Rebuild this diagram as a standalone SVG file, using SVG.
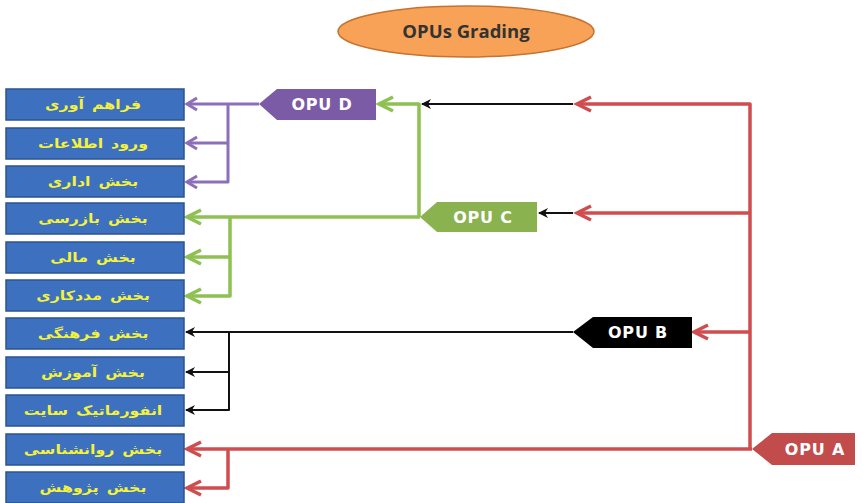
<svg xmlns="http://www.w3.org/2000/svg" width="863" height="503" viewBox="0 0 863 503">
<style>
.box{fill:#3D70BE;stroke:#2B5491;stroke-width:1.5}
.bt{font-family:"DejaVu Sans",sans-serif;font-weight:bold;font-size:13px;fill:#F4F23C;text-anchor:middle;word-spacing:2px}
.nt{font-family:"DejaVu Sans",sans-serif;font-weight:bold;font-size:16px;fill:#FFFFFF;text-anchor:middle;letter-spacing:0.8px}
.c{fill:none;stroke-linejoin:round}
.pu{stroke:#8C6FB8;stroke-width:3}
.gr{stroke:#8FC052;stroke-width:3.5}
.bk{stroke:#111111;stroke-width:2}
.rd{stroke:#CF4D4F;stroke-width:3.5}
</style>
<defs>
<marker id="ap" markerUnits="userSpaceOnUse" viewBox="-14 -9 16 18" refX="0" refY="0" markerWidth="16" markerHeight="18" orient="auto" overflow="visible">
<path d="M-10,-6 L0,0 L-10,6" fill="none" stroke="#8C6FB8" stroke-width="3" stroke-linejoin="miter"/>
</marker>
<marker id="ag" markerUnits="userSpaceOnUse" viewBox="-16 -9 18 18" refX="0" refY="0" markerWidth="18" markerHeight="18" orient="auto" overflow="visible">
<path d="M-14,-7 L0,0 L-14,7" fill="none" stroke="#8FC052" stroke-width="3.5"/>
</marker>
<marker id="ar" markerUnits="userSpaceOnUse" viewBox="-16 -9 18 18" refX="0" refY="0" markerWidth="18" markerHeight="18" orient="auto" overflow="visible">
<path d="M-14,-7 L0,0 L-14,7" fill="none" stroke="#CF4D4F" stroke-width="3.5"/>
</marker>
<marker id="ab" markerUnits="userSpaceOnUse" viewBox="-12 -6 14 12" refX="0" refY="0" markerWidth="14" markerHeight="12" orient="auto" overflow="visible">
<path d="M1,0 L-9,-5 L-6,0 L-9,5 Z" fill="#111111"/>
</marker>
</defs>
<rect width="863" height="503" fill="#FFFFFF"/>

<g id="title">
<ellipse cx="466" cy="31.5" rx="128" ry="25.5" fill="#F7A257" stroke="#C7732F" stroke-width="1.5"/>
<text x="466" y="37.5" font-family="Open Sans, DejaVu Sans, sans-serif" font-weight="bold" font-size="18.5" fill="#333333" text-anchor="middle">OPUs Grading</text>
</g>

<g id="connectors">
<path class="c rd" d="M750,449 V104 H577" marker-end="url(#ar)"/>
<path class="c rd" d="M750,213 H577" marker-end="url(#ar)"/>
<path class="c rd" d="M750,332 H694" marker-end="url(#ar)"/>
<path class="c rd" d="M752,449 H187" marker-end="url(#ar)"/>
<path class="c rd" d="M228,449 V488 H187" marker-end="url(#ar)"/>
<path class="c bk" d="M573,104 H422" marker-end="url(#ab)"/>
<path class="c bk" d="M573,213 H539" marker-end="url(#ab)"/>
<path class="c bk" d="M573,332 H186" marker-end="url(#ab)"/>
<path class="c bk" d="M229,332 V410 H186" marker-end="url(#ab)"/>
<path class="c bk" d="M229,372 H186" marker-end="url(#ab)"/>
<path class="c gr" d="M419,217 V104 H379" marker-end="url(#ag)"/>
<path class="c gr" d="M420,217 H187" marker-end="url(#ag)"/>
<path class="c gr" d="M230,217 V296 H187" marker-end="url(#ag)"/>
<path class="c gr" d="M230,257 H187" marker-end="url(#ag)"/>
<path class="c pu" d="M259,104 H187" marker-end="url(#ap)"/>
<path class="c pu" d="M228,104 V182 H187" marker-end="url(#ap)"/>
<path class="c pu" d="M228,143 H187" marker-end="url(#ap)"/>
</g>

<g id="opu-d"><polygon points="259,104 277,89 376,89 376,120 277,120" fill="#7B5BA6"/><text class="nt" x="322" y="110">OPU D</text></g>
<g id="opu-c"><polygon points="420,217 437,202 537,202 537,232 437,232" fill="#8AB24F"/><text class="nt" x="483" y="223">OPU C</text></g>
<g id="opu-b"><polygon points="573,332 593,317 692,317 692,348 593,348" fill="#000000"/><text class="nt" x="638" y="338">OPU B</text></g>
<g id="opu-a"><polygon points="752,449 772,433 855,433 855,465 772,465" fill="#C24B4C"/><text class="nt" x="815" y="455">OPU A</text></g>

<g id="box1"><rect class="box" x="6" y="89" width="178" height="31"/><text class="bt" transform="translate(93,109) scale(1.22,1)">فراهم آوری</text></g>
<g id="box2"><rect class="box" x="6" y="128" width="178" height="31"/><text class="bt" transform="translate(93,148) scale(1.22,1)">ورود اطلاعات</text></g>
<g id="box3"><rect class="box" x="6" y="166" width="178" height="31"/><text class="bt" transform="translate(93,186) scale(1.22,1)">بخش اداری</text></g>
<g id="box4"><rect class="box" x="6" y="203" width="178" height="31"/><text class="bt" transform="translate(93,223) scale(1.22,1)">بخش بازرسی</text></g>
<g id="box5"><rect class="box" x="6" y="242" width="178" height="31"/><text class="bt" transform="translate(93,262) scale(1.22,1)">بخش مالی</text></g>
<g id="box6"><rect class="box" x="6" y="280" width="178" height="31"/><text class="bt" transform="translate(93,300) scale(1.22,1)">بخش مددکاری</text></g>
<g id="box7"><rect class="box" x="6" y="318" width="178" height="31"/><text class="bt" transform="translate(93,338) scale(1.22,1)">بخش فرهنگی</text></g>
<g id="box8"><rect class="box" x="6" y="357" width="178" height="31"/><text class="bt" transform="translate(93,377) scale(1.22,1)">بخش آموزش</text></g>
<g id="box9"><rect class="box" x="6" y="395" width="178" height="31"/><text class="bt" transform="translate(93,415) scale(1.22,1)">انفورماتیک سایت</text></g>
<g id="box10"><rect class="box" x="6" y="434" width="178" height="31"/><text class="bt" transform="translate(93,454) scale(1.22,1)">بخش روانشناسی</text></g>
<g id="box11"><rect class="box" x="6" y="472" width="178" height="31"/><text class="bt" transform="translate(93,492) scale(1.22,1)">بخش پژوهش</text></g>
</svg>
